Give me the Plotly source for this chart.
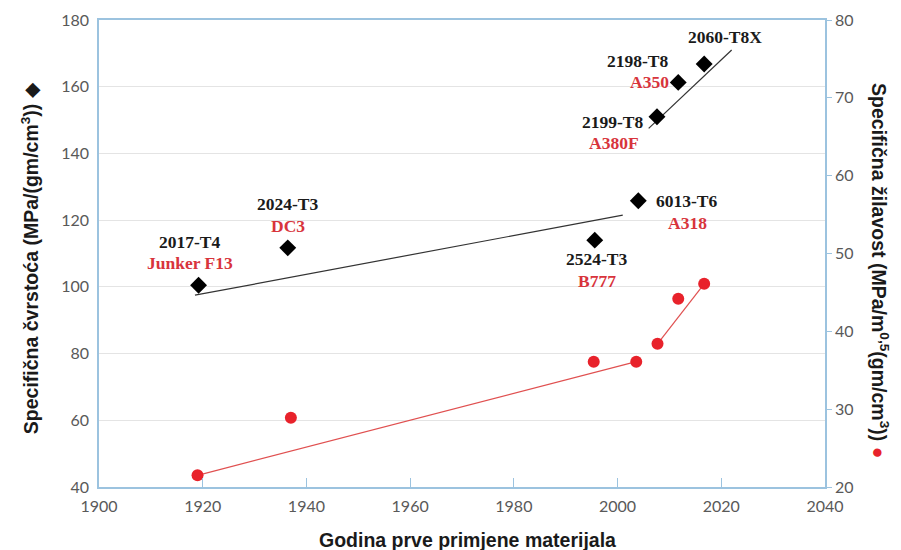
import plotly.graph_objects as go

# ---- data ----
years_strength = [1919.2, 1936.4, 1995.6, 2004, 2007.6, 2011.7, 2016.7]
strength = [100.5, 111.7, 114, 125.8, 151, 161.3, 166.8]
alloys = ["2017-T4", "2024-T3", "2524-T3", "6013-T6", "2199-T8", "2198-T8", "2060-T8X"]
aircraft = ["Junker F13", "DC3", "B777", "A318", "A380F", "A350", ""]

years_tough = [1919, 1937, 1995.4, 2003.6, 2007.7, 2011.7, 2016.7]
toughness = [21.5, 28.9, 36.1, 36.1, 38.4, 44.2, 46.1]

trend1_x = [1918.5, 2001]
trend1_y = [97.5, 121.5]
trend2_x = [2006, 2022]
trend2_y = [147.5, 171]

red_seg_x = [1919, 2003.6, None, 2007.7, 2016.7]
red_seg_y = [21.5, 36.1, None, 38.4, 46.1]

x_ticks = [1900, 1920, 1940, 1960, 1980, 2000, 2020, 2040]

# ---- styles / layout offsets ----
BLUE = "#9cc3df"
RED = "#e8222b"
LABEL_RED = "#d8343c"
# (dx, dy) pixel offsets for alloy label and aircraft label
alloy_off = [(-9, 43), (0, 44), (2, -19), (49, 0), (-44, -5), (-40, 21), (21, 27)]
air_off = [(-9, 22), (0, 22), (2, -41), (49, -22), (-43, -26), (-29, 0), (0, 0)]

fig = go.Figure()

fig.add_trace(go.Scatter(x=trend1_x, y=trend1_y, mode="lines",
                         line=dict(color="#333333", width=1.2), showlegend=False))
fig.add_trace(go.Scatter(x=trend2_x, y=trend2_y, mode="lines",
                         line=dict(color="#333333", width=1.2), showlegend=False))
fig.add_trace(go.Scatter(x=red_seg_x, y=red_seg_y, mode="lines", yaxis="y2",
                         line=dict(color="#e05050", width=1.2), showlegend=False))
fig.add_trace(go.Scatter(x=years_strength, y=strength, mode="markers",
                         marker=dict(symbol="diamond", size=13, color="black"),
                         showlegend=False))
fig.add_trace(go.Scatter(x=years_tough, y=toughness, mode="markers", yaxis="y2",
                         marker=dict(symbol="circle", size=12, color=RED),
                         showlegend=False))

serif = "Liberation Serif"
for i, (x, y) in enumerate(zip(years_strength, strength)):
    dx, dy = alloy_off[i]
    fig.add_annotation(x=x, y=y, text="<b>%s</b>" % alloys[i], showarrow=False,
                       xshift=dx, yshift=dy,
                       font=dict(family=serif, size=17.5, color="#1a1a1a"))
    if aircraft[i]:
        dx, dy = air_off[i]
        fig.add_annotation(x=x, y=y, text="<b>%s</b>" % aircraft[i], showarrow=False,
                           xshift=dx, yshift=dy,
                           font=dict(family=serif, size=17.5, color=LABEL_RED))

title_font = dict(family="Liberation Sans", size=19.5, color="#1a1a1a")
fig.add_annotation(xref="paper", yref="paper", x=-0.095, y=0.49,
                   text="<b>Specifična čvrstoća (MPa/(gm/cm<sup>3</sup>))</b> ◆",
                   textangle=-90, showarrow=False, font=title_font,
                   xanchor="center", yanchor="middle")
fig.add_annotation(xref="paper", yref="paper", x=1.0757, y=0.4625,
                   text="<b>Specifična žilavost (MPa/m<sup>0,5</sup>(gm/cm<sup>3</sup>))</b> "
                        "<span style='color:%s'>●</span>" % RED,
                   textangle=90, showarrow=False, font=title_font,
                   xanchor="center", yanchor="middle")
fig.add_annotation(xref="paper", yref="paper", x=0.508, y=-0.1135,
                   text="<b>Godina prve primjene materijala</b>",
                   showarrow=False, font=title_font,
                   xanchor="center", yanchor="middle")

tick_font = dict(family="Lato", size=16, color="#595959")
fig.update_layout(
    width=901, height=550,
    margin=dict(l=91, r=84, t=12, b=71),
    paper_bgcolor="white", plot_bgcolor="white",
    xaxis=dict(range=[1900, 2040], tickvals=x_ticks, showgrid=False,
               showline=True, linecolor=BLUE, linewidth=1.5, mirror=True,
               ticks="inside", ticklen=9, tickcolor=BLUE, tickfont=tick_font,
               ticklabelstandoff=4, zeroline=False, automargin=False),
    yaxis=dict(range=[40, 180], dtick=20, showgrid=True, gridcolor="#e4e4e4",
               showline=True, linecolor=BLUE, linewidth=1.5, automargin=False,
               ticks="", tickfont=tick_font, ticklabelstandoff=5, zeroline=False),
    yaxis2=dict(range=[20, 80], dtick=10, overlaying="y", side="right",
                showgrid=False, showline=True, linecolor=BLUE, linewidth=1.5,
                ticks="outside", ticklen=5, tickcolor=BLUE, tickfont=tick_font,
                zeroline=False, automargin=False),
)

fig.write_html("out.html")
